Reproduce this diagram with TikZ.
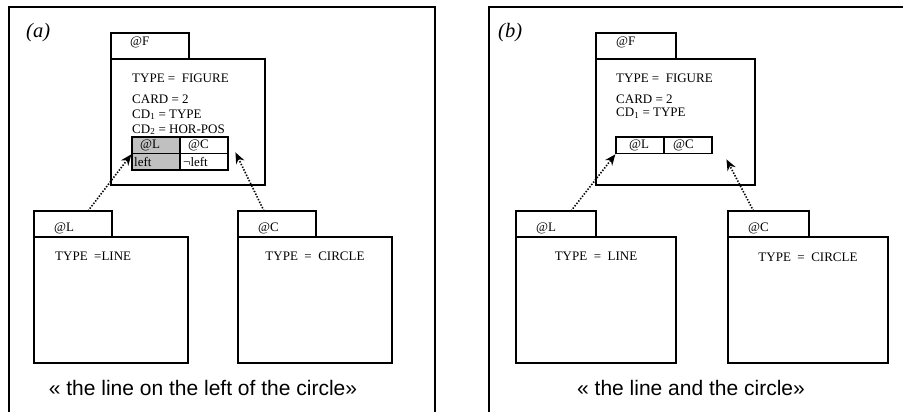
\documentclass[tikz,border=0pt]{standalone}
\usepackage{fontspec}
\setmainfont{Liberation Serif}
\setsansfont{Liberation Sans}
\usepackage{tikz}
\usetikzlibrary{arrows.meta, positioning, calc}
\definecolor{cellgray}{RGB}{192, 192, 192}

\begin{document}
\begin{tikzpicture}[x=1pt, y=-1pt,
        every node/.style={font=\fontsize{13}{15}\selectfont},
        frame/.style={line width=1.6pt},
        tab/.style={draw, line width=1.8pt, anchor=north west, inner sep=0pt, outer sep=0pt,
                    minimum width=78pt, minimum height=26pt},
        body/.style={draw, line width=1.8pt, anchor=north west, inner sep=0pt, outer sep=0pt,
                     minimum width=154pt, minimum height=126pt},
        cell/.style={draw, line width=1.8pt, anchor=north west, inner sep=0pt, outer sep=0pt,
                     minimum width=48pt, minimum height=16.5pt},
        tag/.style={inner sep=0pt, anchor=west},
        attr/.style={inner sep=0pt, anchor=base west},
        link/.style={line width=1.6pt, dash pattern=on 1.4pt off 1.6pt, shorten >=1pt,
                     -{Stealth[length=11pt, width=9pt]}},
        caption/.style={font=\sffamily\fontsize{21}{24}\selectfont, inner sep=0pt},
        panel/.style={font=\itshape\fontsize{20.5}{22}\selectfont, inner sep=0pt, anchor=west},
      ]
        \useasboundingbox (0,0) rectangle (903,412);

        % frames
        \draw[frame] (9,420) -- (9,7) -- (435,7) -- (435,420);
        \draw[frame] (489,420) -- (489,7) -- (910,7);
        \node[panel] (alabel) at (26,33) {(a)};
        \node[panel] (blabel) at (498,33) {(b)};

        % (a) figure object
        \node[tab]  (aFtab)  at (111,33) {};
        \node[body] (aFbody) at (111,59) {};
        \node[tag]  (aFtag)  at ([xshift=19pt, yshift=4pt]aFtab.west) {@F};
        \node[attr] (aFtype) at ($(aFbody.north west)+(21,23)$) {TYPE = \ FIGURE};
        \node[attr] (aFcard) at ($(aFbody.north west)+(21,44)$) {CARD = 2};
        \node[attr] (aFcd1)  at ($(aFbody.north west)+(21,59)$) {CD\textsubscript{1} = TYPE};
        \node[attr] (aFcd2)  at ($(aFbody.north west)+(21,74)$) {CD\textsubscript{2} = HOR-POS};
        \node[cell, fill=cellgray] (aL1) at (132,137) {};
        \node[cell] (aC1) at (aL1.north east) {};
        \node[cell, fill=cellgray] (aL2) at (aL1.south west) {};
        \node[cell] (aC2) at (aL2.north east) {};
        \node[tag] at ([xshift=8pt]aL1.west) {@L};
        \node[tag] at ([xshift=8pt]aC1.west) {@C};
        \node[tag] at ([xshift=2pt]aL2.west) {left};
        \node[tag] at ([xshift=3pt]aC2.west) {¬left};

        % (a) line and circle objects
        \node[tab]  (aLtab)  at (34,211) {};
        \node[body] (aLbody) at (34,237) {};
        \node[tag]  (aLtag)  at ([xshift=20pt, yshift=-4pt]aLtab.west) {@L};
        \node[tag]  (aLtype) at ([xshift=21pt, yshift=-19pt]aLbody.north west) {TYPE\ \ =LINE};
        \node[tab]  (aCtab)  at (238,211) {};
        \node[body] (aCbody) at (238,237) {};
        \node[tag]  (aCtag)  at ([xshift=20pt, yshift=-4pt]aCtab.west) {@C};
        \node[inner sep=0pt] (aCtype) at ([yshift=-19pt]aCbody.north) {TYPE\ \ =\ \ CIRCLE};

        \draw[link] ([xshift=15pt]aLtab.north) -- (aL2.north west);
        \draw[link] ([xshift=-13pt]aCtab.north) -- ([xshift=7pt, yshift=2pt]aC1.south east);

        \node[caption] (acap) at (203,388) {« the line on the left of the circle»};

        % (b) figure object
        \node[tab, minimum width=80pt]   (bFtab)  at (596,33) {};
        \node[body, minimum width=159pt] (bFbody) at (596,59) {};
        \node[tag]  (bFtag)  at ([xshift=20pt, yshift=4pt]bFtab.west) {@F};
        \node[attr] (bFtype) at ($(bFbody.north west)+(20,23)$) {TYPE = \ FIGURE};
        \node[attr] (bFcard) at ($(bFbody.north west)+(20,44)$) {CARD = 2};
        \node[attr] (bFcd1)  at ($(bFbody.north west)+(20,58)$) {CD\textsubscript{1} = TYPE};
        \node[cell] (bL) at (616,137) {};
        \node[cell] (bC) at (bL.north east) {};
        \node[tag] at ([xshift=13pt]bL.west) {@L};
        \node[tag] at ([xshift=9pt]bC.west) {@C};

        % (b) line and circle objects
        \node[tab, minimum width=80pt]   (bLtab)  at (516,211) {};
        \node[body, minimum width=160pt] (bLbody) at (516,237) {};
        \node[tag]  (bLtag)  at ([xshift=20pt, yshift=-4pt]bLtab.west) {@L};
        \node[inner sep=0pt] (bLtype) at ([yshift=-19pt]bLbody.north) {TYPE\ \ =\ \ LINE};
        \node[tab, minimum width=81pt]   (bCtab)  at (728,211) {};
        \node[body, minimum width=160pt] (bCbody) at (728,237) {};
        \node[tag]  (bCtag)  at ([xshift=20pt, yshift=-4pt]bCtab.west) {@C};
        \node[inner sep=0pt] (bCtype) at ([yshift=-20pt]bCbody.north) {TYPE\ \ =\ \ CIRCLE};

        \draw[link] ([xshift=15pt]bLtab.north) -- (bL.south west);
        \draw[link] ([xshift=-15pt]bCtab.north) -- ([xshift=14pt, yshift=-5pt]bC.south east);

        \node[caption] (bcap) at (691,388) {« the line and the circle»};
      \end{tikzpicture}
\end{document}
